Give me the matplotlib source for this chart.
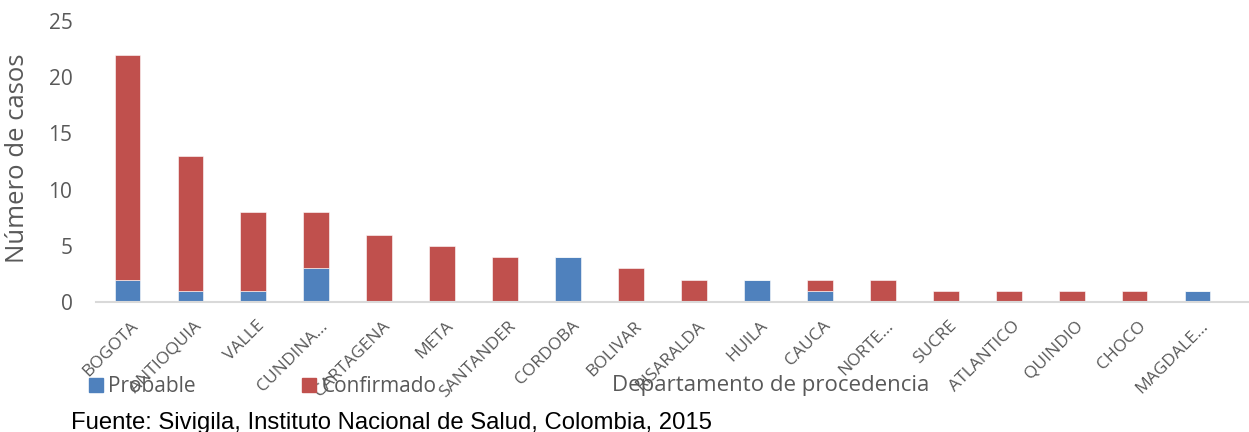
import numpy as np
import matplotlib.pyplot as plt
from matplotlib.patches import Patch
from matplotlib.transforms import ScaledTranslation

# Cases by department of origin, probable vs confirmed
departamentos = ["BOGOTA", "ANTIOQUIA", "VALLE", "CUNDINA...", "CARTAGENA", "META",
                 "SANTANDER", "CORDOBA", "BOLIVAR", "RISARALDA", "HUILA", "CAUCA",
                 "NORTE...", "SUCRE", "ATLANTICO", "QUINDIO", "CHOCO", "MAGDALE..."]
probable = [2, 1, 1, 3, 0, 0, 0, 4, 0, 0, 2, 1, 0, 0, 0, 0, 0, 1]
confirmado = [20, 12, 7, 5, 6, 5, 4, 0, 3, 2, 0, 1, 2, 1, 1, 1, 1, 0]

azul = "#4F81BD"
rojo = "#C0504D"
gris = "#595959"

plt.rcParams['font.family'] = ['Open Sans', 'DejaVu Sans']

W, H = 1249, 432
fig = plt.figure(figsize=(W / 100, H / 100), dpi=100)
ax = fig.add_axes([96 / W, 130 / H, 1153 / W, 281 / H])

x = np.arange(len(departamentos))
ax.bar(x, probable, width=0.41, color=azul, edgecolor="white", linewidth=0.4)
ax.bar(x, confirmado, width=0.41, bottom=probable, color=rojo, edgecolor="white", linewidth=0.4)

# the category axis runs a little past the last slot
ax.set_xlim(-0.5, len(departamentos) - 0.5 + 20 / 62.9)
ax.set_ylim(0, 25)
ax.set_yticks(range(0, 26, 5))
ax.tick_params(axis='y', length=0, labelsize=15, labelcolor=gris, pad=17)
ax.tick_params(axis='x', length=0, labelsize=12.5, labelcolor=gris, pad=11.5)
ax.set_xticks(x)
ax.set_xticklabels(departamentos, rotation=45, ha='right', va='top', rotation_mode='anchor')
shift = ScaledTranslation(3 / 100, 0, fig.dpi_scale_trans)
for lbl in ax.get_xticklabels():
    lbl.set_transform(lbl.get_transform() + shift)

for side in ["top", "right", "left"]:
    ax.spines[side].set_visible(False)
ax.spines["bottom"].set_color("#D9D9D9")
ax.spines["bottom"].set_linewidth(1.5)

fig.text(18 / W, 1 - 158 / H, "Número de casos", rotation=90, ha='center', va='center',
         fontsize=18.5, color=gris)
fig.text(771 / W, 1 - 386 / H, "Departamento de procedencia", ha='center', va='center',
         fontsize=16, color=gris)

handles = [Patch(color=azul, label="Probable"), Patch(color=rojo, label="Confirmado")]
fig.legend(handles=handles, loc='center left', bbox_to_anchor=(89 / W, 1 - 387 / H),
           ncol=2, frameon=False, fontsize=15, labelcolor=gris, handlelength=0.68,
           handleheight=0.68, handletextpad=0.25, columnspacing=5.1, borderpad=0,
           borderaxespad=0)

fig.text(71 / W, 1 - 429 / H, "Fuente: Sivigila, Instituto Nacional de Salud, Colombia, 2015",
         ha='left', va='baseline', fontsize=17.2, color="black", family="Liberation Sans")

fig.savefig("out.png", dpi=100)
